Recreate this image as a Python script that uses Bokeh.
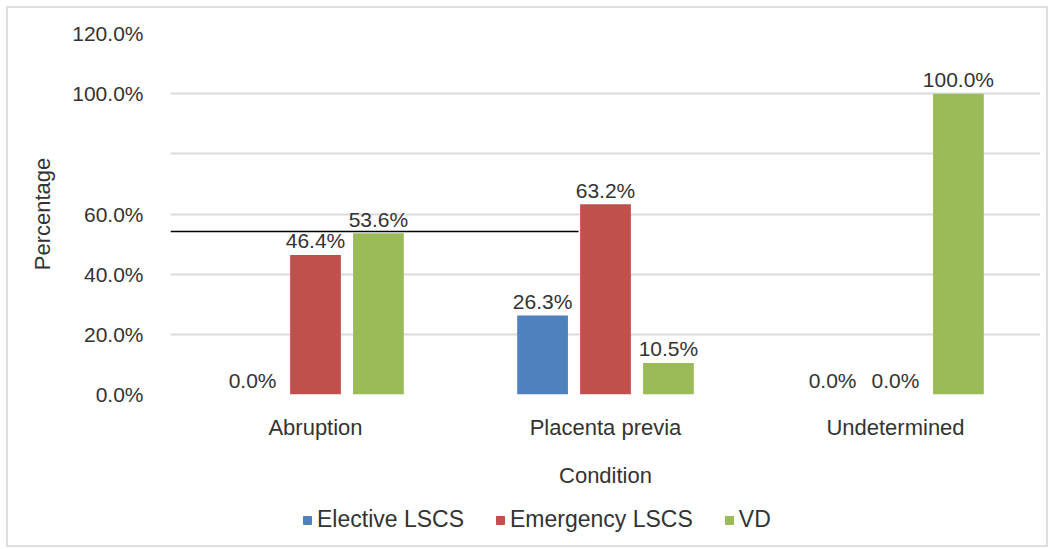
from bokeh.plotting import figure
from bokeh.models import ColumnDataSource, FactorRange, Legend, LegendItem, FixedTicker
from bokeh.layouts import column
from bokeh.transform import dodge
from bokeh.core.properties import value
from bokeh.embed import file_html
from bokeh.resources import INLINE

categories = ["Abruption", "Placenta previa", "Undetermined"]
series = ["Elective LSCS", "Emergency LSCS", "VD"]
elective = [0.0, 26.3, 0.0]
emergency = [46.4, 63.2, 0.0]
vd = [53.6, 10.5, 100.0]
y_ticks = [0, 20, 40, 60, 80, 100, 120]
y_tick_labels = ["0.0%", "20.0%", "40.0%", "60.0%", "", "100.0%", "120.0%"]
ref_level = [54.2]

colors = ["#4F81BD", "#C0504D", "#9BBB59"]
FONT = "Liberation Sans"
TXT = "#333333"
FS = "21px"
NAN = float("nan")

src = ColumnDataSource(dict(
    cat=categories,
    elective=elective, emergency=emergency, vd=vd,
    elective_lbl=[f"{v:.1f}%" for v in elective],
    emergency_lbl=[f"{v:.1f}%" for v in emergency],
    vd_lbl=[f"{v:.1f}%" for v in vd],
))

p = figure(x_range=FactorRange(*categories), y_range=(0, 120),
           frame_width=870, frame_height=361, output_backend="svg", toolbar_location=None,
           min_border_left=162, min_border_top=25, min_border_right=6, min_border_bottom=100)
p.outline_line_color = None
p.background_fill_color = "white"

offsets = [-0.217, 0.0, 0.217]
keys = ["elective", "emergency", "vd"]
for key, off, col in zip(keys, offsets, colors):
    p.vbar(x=dodge("cat", off, range=p.x_range), top=key, width=0.175,
           source=src, fill_color=col, line_color=None)
    p.text(x=dodge("cat", off, range=p.x_range), y=key, text=key + "_lbl", source=src,
           text_align="center", text_baseline="alphabetic", y_offset=-14,
           text_font=value(FONT), text_font_size=FS, text_color=TXT)

# stray horizontal rule seen in the reference
p.segment(x0=[0], x1=[1.407], y0=ref_level, y1=ref_level, line_color="black", line_width=1.5)

p.yaxis.ticker = FixedTicker(ticks=y_ticks)
p.yaxis.major_label_overrides = {t: l for t, l in zip(y_ticks, y_tick_labels)}
p.ygrid.ticker = FixedTicker(ticks=y_ticks)
p.ygrid.grid_line_color = "#dcdcdc"
p.ygrid.grid_line_width = 2
p.xgrid.grid_line_color = None

for ax in (p.xaxis, p.yaxis):
    ax.axis_line_color = None
    ax.major_tick_line_color = None
    ax.minor_tick_line_color = None
    ax.major_label_text_font = FONT
    ax.major_label_text_color = TXT
    ax.axis_label_text_font = FONT
    ax.axis_label_text_font_size = "22px"
    ax.axis_label_text_font_style = "normal"
    ax.axis_label_text_color = TXT
p.yaxis.major_label_text_font_size = FS
p.xaxis.major_label_text_font_size = "22px"

p.yaxis.axis_label = "Percentage"
p.yaxis.major_label_standoff = 21
p.yaxis.axis_label_standoff = 14
p.xaxis.axis_label = "Condition"
p.xaxis.major_label_standoff = 14
p.xaxis.axis_label_standoff = 20

# legend strip below the chart (placeholder renderers carry the series colours)
leg = figure(width=1038, height=51, output_backend="svg", toolbar_location=None,
             x_axis_type=None, y_axis_type=None, min_border=0,
             x_range=(0, 1), y_range=(0, 1))
leg.outline_line_color = None
leg.xgrid.grid_line_color = None
leg.ygrid.grid_line_color = None
leg_renderers = [leg.vbar(x=[NAN], top=[NAN], width=0.1, fill_color=c, line_color=c) for c in colors]
legend = Legend(items=[LegendItem(label=s, renderers=[r]) for s, r in zip(series, leg_renderers)],
                orientation="horizontal", location=(132, 12),
                label_text_font=FONT, label_text_font_size="23px", label_text_color=TXT,
                glyph_width=10, glyph_height=10, label_standoff=5, spacing=31,
                border_line_color=None, background_fill_alpha=0, padding=4, margin=0)
leg.add_layout(legend, "center")

layout = column(p, leg, spacing=0)
layout.styles = {"border": "2px solid #dedede", "margin": "6px", "width": "fit-content"}

open("out.html", "w").write(file_html(layout, INLINE))
